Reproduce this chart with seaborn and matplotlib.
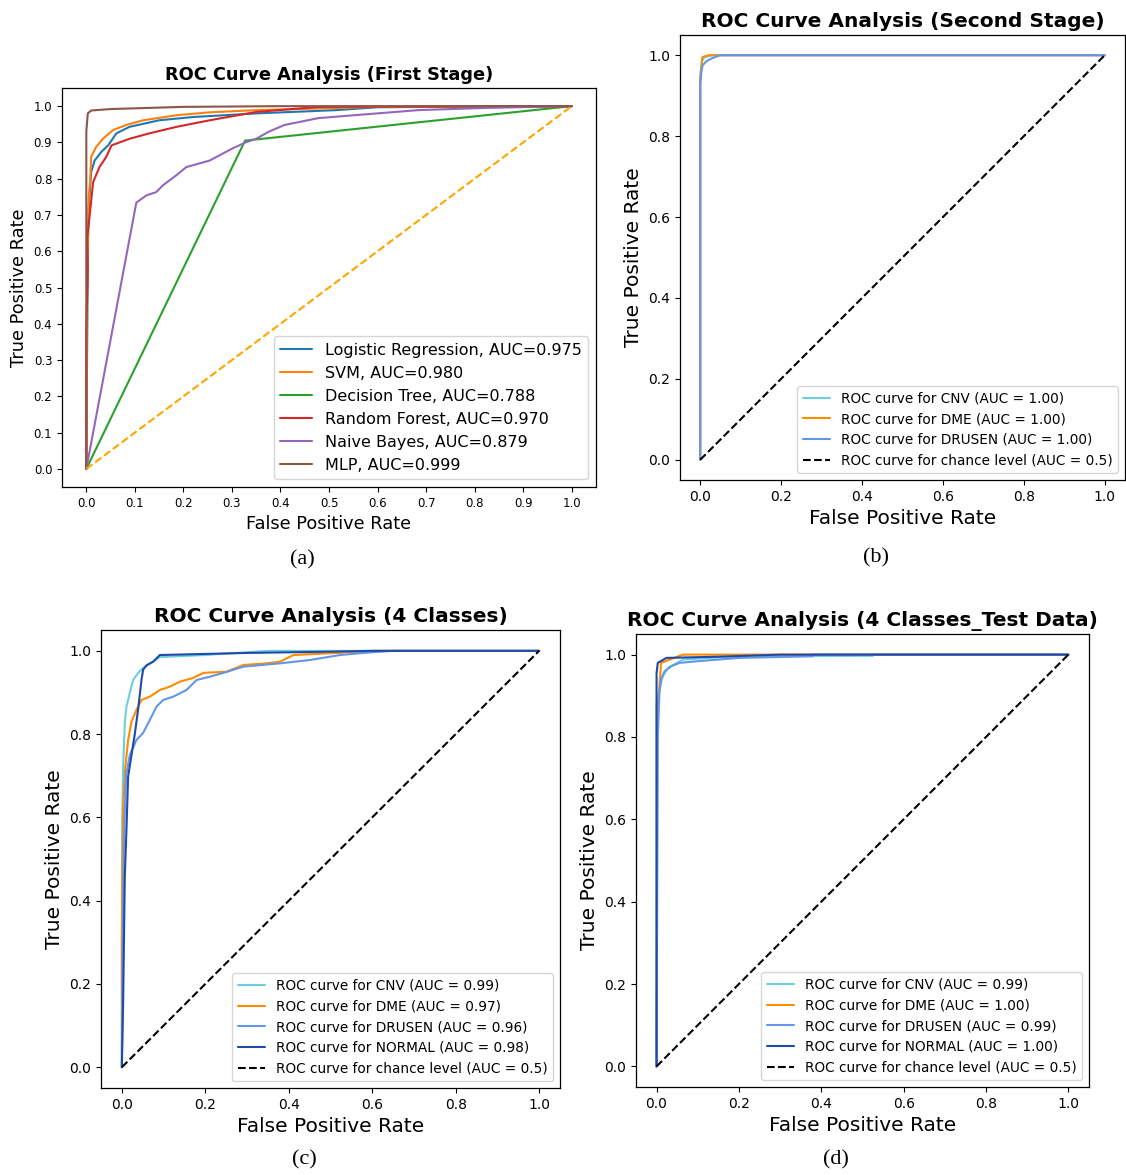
import matplotlib
matplotlib.use("Agg")
import matplotlib.pyplot as plt
import seaborn as sns

sns.set_style("ticks")
plt.rcParams["font.family"] = ["DejaVu Sans"]
plt.rcParams["text.color"] = "black"
plt.rcParams["axes.labelcolor"] = "black"
plt.rcParams["xtick.color"] = "black"
plt.rcParams["ytick.color"] = "black"

# ---- (a) first stage, six classifiers ----
lr_fpr = [0, 0.003, 0.005, 0.008, 0.01, 0.017, 0.031, 0.045, 0.062, 0.089, 0.15, 0.22, 0.35, 0.515, 0.6, 1]
lr_tpr = [0, 0.6, 0.72, 0.78, 0.818, 0.85, 0.874, 0.892, 0.925, 0.943, 0.961, 0.97, 0.98, 0.989, 0.997, 1]
svm_fpr = [0, 0.002, 0.005, 0.008, 0.01, 0.02, 0.034, 0.055, 0.082, 0.117, 0.186, 0.254, 0.35, 0.6, 1]
svm_tpr = [0, 0.5, 0.75, 0.8, 0.86, 0.887, 0.91, 0.934, 0.948, 0.961, 0.975, 0.983, 0.989, 0.998, 1]
dt_fpr = [0, 0.327, 1]
dt_tpr = [0, 0.905, 1]
rf_fpr = [0, 0, 0.003, 0.002, 0.007, 0.014, 0.027, 0.041, 0.052, 0.089, 0.13, 0.186, 0.254, 0.35, 0.48, 1]
rf_tpr = [0, 0.38, 0.55, 0.64, 0.7, 0.79, 0.832, 0.86, 0.892, 0.91, 0.925, 0.943, 0.961, 0.984, 0.998, 1]
nb_fpr = [0, 0.103, 0.124, 0.144, 0.158, 0.186, 0.206, 0.254, 0.302, 0.33, 0.35, 0.375, 0.408, 0.478, 0.58, 0.684, 0.82, 1]
nb_tpr = [0, 0.734, 0.754, 0.763, 0.782, 0.81, 0.832, 0.85, 0.884, 0.901, 0.91, 0.929, 0.948, 0.967, 0.978, 0.989, 0.995, 1]
mlp_fpr = [0, 0, 0.003, 0.01, 0.05, 0.2, 0.4, 1]
mlp_tpr = [0, 0.93, 0.98, 0.988, 0.992, 0.998, 1, 1]

models_a = ["Logistic Regression", "SVM", "Decision Tree", "Random Forest", "Naive Bayes", "MLP"]
auc_a = [0.975, 0.980, 0.788, 0.970, 0.879, 0.999]

# ---- (b) second stage ----
b_cnv_fpr = [0, 0, 0.004, 0.01, 0.03, 1]
b_cnv_tpr = [0, 0.95, 0.985, 0.995, 1, 1]
b_dme_fpr = [0, 0, 0.003, 0.005, 0.02, 1]
b_dme_tpr = [0, 0.94, 0.97, 0.995, 1, 1]
b_dru_fpr = [0, 0, 0.003, 0.006, 0.015, 0.03, 0.05, 1]
b_dru_tpr = [0, 0.93, 0.96, 0.975, 0.985, 0.993, 1, 1]
classes_b = ["CNV", "DME", "DRUSEN"]
auc_b = ["1.00", "1.00", "1.00"]

# ---- (c) 4 classes ----
c_cnv_fpr = [0, 0, 0.001, 0.003, 0.007, 0.011, 0.019, 0.027, 0.039, 0.051, 0.075, 0.091, 0.2, 0.35, 1]
c_cnv_tpr = [0, 0.3, 0.6, 0.72, 0.827, 0.866, 0.899, 0.93, 0.947, 0.959, 0.974, 0.985, 0.99, 1, 1]
c_dme_fpr = [0, 0, 0.001, 0.003, 0.008, 0.015, 0.023, 0.035, 0.047, 0.067, 0.091, 0.115, 0.139, 0.171,
             0.195, 0.251, 0.291, 0.347, 0.379, 0.411, 0.515, 0.6, 1]
c_dme_tpr = [0, 0.3, 0.46, 0.62, 0.718, 0.786, 0.83, 0.858, 0.882, 0.89, 0.906, 0.914, 0.926, 0.935,
             0.947, 0.95, 0.966, 0.97, 0.974, 0.99, 0.995, 1, 1]
c_dru_fpr = [0, 0.002, 0.005, 0.01, 0.019, 0.035, 0.051, 0.067, 0.083, 0.099, 0.123, 0.155, 0.179, 0.211,
             0.243, 0.291, 0.379, 0.451, 0.523, 0.579, 0.65, 1]
c_dru_tpr = [0, 0.3, 0.55, 0.7, 0.75, 0.786, 0.803, 0.834, 0.866, 0.882, 0.89, 0.906, 0.93, 0.938,
             0.947, 0.962, 0.97, 0.978, 0.99, 0.995, 1, 1]
c_nor_fpr = [0, 0.003, 0.005, 0.007, 0.011, 0.015, 0.02, 0.031, 0.039, 0.047, 0.051, 0.06, 0.075, 0.091,
             0.3, 0.5, 0.6, 1]
c_nor_tpr = [0, 0.15, 0.3, 0.457, 0.57, 0.698, 0.73, 0.8, 0.86, 0.93, 0.955, 0.966, 0.974, 0.99,
             0.995, 0.998, 1, 1]
classes_c = ["CNV", "DME", "DRUSEN", "NORMAL"]
auc_c = ["0.99", "0.97", "0.96", "0.98"]

# ---- (d) 4 classes, test data ----
d_cnv_fpr = [0, 0, 0.007, 0.015, 0.028, 0.064, 0.2, 0.525, 0.525, 1]
d_cnv_tpr = [0, 0.88, 0.915, 0.947, 0.968, 0.988, 0.996, 0.997, 1, 1]
d_dme_fpr = [0, 0.002, 0.007, 0.011, 0.032, 0.064, 1]
d_dme_tpr = [0, 0.85, 0.923, 0.98, 0.988, 1, 1]
d_dru_fpr = [0, 0.003, 0.007, 0.011, 0.019, 0.036, 0.056, 0.1, 0.2, 0.38, 0.38, 1]
d_dru_tpr = [0, 0.8, 0.907, 0.94, 0.959, 0.972, 0.98, 0.984, 0.992, 0.996, 1, 1]
d_nor_fpr = [0, 0, 0.003, 0.024, 0.15, 0.3, 1]
d_nor_tpr = [0, 0.955, 0.98, 0.992, 0.995, 1, 1]
classes_d = ["CNV", "DME", "DRUSEN", "NORMAL"]
auc_d = ["0.99", "1.00", "0.99", "1.00"]

chance = [0, 1]
colors4 = ["#6ccfdd", "#ff8c00", "#6495ed", "#1f4aa8"]
tab = sns.color_palette("tab10")

fig = plt.figure(figsize=(11.26, 11.75), dpi=100)
ax_a = fig.add_axes([0.0551, 0.5855, 0.4742, 0.3396])
ax_b = fig.add_axes([0.6039, 0.5915, 0.3952, 0.3787])
ax_c = fig.add_axes([0.0897, 0.0740, 0.4076, 0.3898])
ax_d = fig.add_axes([0.5648, 0.0749, 0.4023, 0.3855])


def curve(ax, x, y, color, label, **kw):
    sns.lineplot(x=x, y=y, ax=ax, sort=False, estimator=None, color=color,
                 label=label, linewidth=1.5, **kw)


# panel a
curves_a = [(lr_fpr, lr_tpr), (svm_fpr, svm_tpr), (dt_fpr, dt_tpr),
            (rf_fpr, rf_tpr), (nb_fpr, nb_tpr), (mlp_fpr, mlp_tpr)]
for i, ((x, y), name, auc) in enumerate(zip(curves_a, models_a, auc_a)):
    curve(ax_a, x, y, tab[i], f"{name}, AUC={auc:.3f}")
ax_a.plot(chance, chance, color="orange", linestyle="--", linewidth=1.5)
ax_a.set_xticks([i / 10 for i in range(11)])
ax_a.set_yticks([i / 10 for i in range(11)])
ax_a.tick_params(labelsize=8.5)
ax_a.set_title("ROC Curve Analysis (First Stage)", fontsize=12.8, fontweight="bold")
ax_a.set_xlabel("False Positive Rate", fontsize=12.8)
ax_a.set_ylabel("True Positive Rate", fontsize=12.8)
ax_a.legend(loc="lower right", fontsize=11.5)

# panels b, c, d
panels = [
    (ax_b, [(b_cnv_fpr, b_cnv_tpr), (b_dme_fpr, b_dme_tpr), (b_dru_fpr, b_dru_tpr)],
     classes_b, auc_b, "ROC Curve Analysis (Second Stage)"),
    (ax_c, [(c_cnv_fpr, c_cnv_tpr), (c_dme_fpr, c_dme_tpr), (c_dru_fpr, c_dru_tpr), (c_nor_fpr, c_nor_tpr)],
     classes_c, auc_c, "ROC Curve Analysis (4 Classes)"),
    (ax_d, [(d_cnv_fpr, d_cnv_tpr), (d_dme_fpr, d_dme_tpr), (d_dru_fpr, d_dru_tpr), (d_nor_fpr, d_nor_tpr)],
     classes_d, auc_d, "ROC Curve Analysis (4 Classes_Test Data)"),
]
for ax, curves, names, aucs, title in panels:
    for i, ((x, y), name, auc) in enumerate(zip(curves, names, aucs)):
        curve(ax, x, y, colors4[i], f"ROC curve for {name} (AUC = {auc})")
    ax.plot(chance, chance, color="black", linestyle="--", linewidth=1.5,
            label="ROC curve for chance level (AUC = 0.5)")
    ax.tick_params(labelsize=10)
    ax.set_title(title, fontsize=14.5, fontweight="bold")
    ax.set_xlabel("False Positive Rate", fontsize=14.5)
    ax.set_ylabel("True Positive Rate", fontsize=14.5)
    ax.legend(loc="lower right", fontsize=9.8)

for ax in [ax_a, ax_b, ax_c, ax_d]:
    ax.set_xlim(-0.05, 1.05)
    ax.set_ylim(-0.05, 1.05)
    for s in ax.spines.values():
        s.set_color("black")
        s.set_linewidth(0.9)

for lab, x, y in [("(a)", 302, 560), ("(b)", 876, 558), ("(c)", 304, 1160), ("(d)", 836, 1160)]:
    fig.text(x / 1126, 1 - y / 1175, lab, ha="center", va="center",
             fontsize=16, family=["Liberation Serif", "DejaVu Serif"])

fig.savefig("out.png", dpi=100)
